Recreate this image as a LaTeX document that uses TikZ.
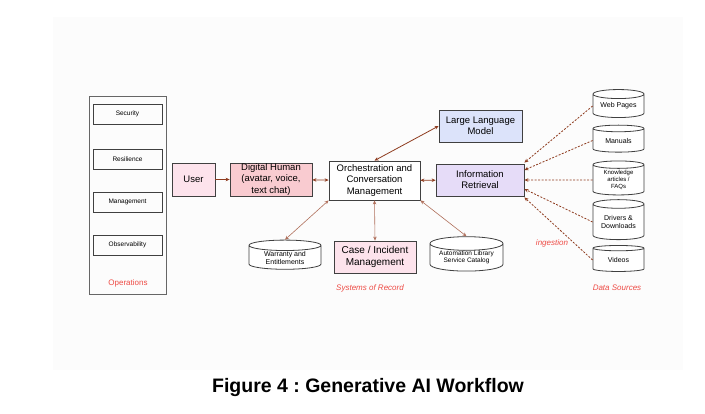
\documentclass[tikz,border=0pt]{standalone}
\usepackage{fontspec}
\setmainfont{Liberation Sans}
\usetikzlibrary{shapes.geometric,arrows.meta}
\frenchspacing

\definecolor{arrowbrown}{HTML}{8E3B1E}
\definecolor{lightbrown}{HTML}{B0705C}
\definecolor{labelred}{HTML}{EE4B45}
\definecolor{userpink}{HTML}{FDE3EC}
\definecolor{humanpink}{HTML}{F9CBD0}
\definecolor{llmblue}{HTML}{DCE3FA}
\definecolor{irlilac}{HTML}{E6DCF8}
\definecolor{boxgrey}{HTML}{404040}

\tikzset{
  box/.style={draw=boxgrey, line width=0.8pt, align=center, inner sep=0pt,
    font=\fontsize{9.5}{11.2}\selectfont},
  opsbox/.style={draw=boxgrey, line width=0.8pt, minimum width=69, minimum height=20,
    inner sep=0pt, font=\fontsize{6.5}{8}\selectfont},
  cyl/.style={cylinder, shape border rotate=90, draw=boxgrey, line width=0.8pt,
    shape aspect=0.25, fill=white, align=center, inner sep=0pt,
    font=\fontsize{7}{8}\selectfont},
  redlabel/.style={text=labelred, font=\fontsize{8}{9}\selectfont\itshape},
  link/.style={arrowbrown, line width=0.8pt,
    {Stealth[length=4pt,width=3.5pt]}-{Stealth[length=4pt,width=3.5pt]}},
  softlink/.style={lightbrown, line width=0.6pt,
    {Stealth[length=4pt,width=3.5pt]}-{Stealth[length=4pt,width=3.5pt]}},
  feed/.style={arrowbrown, line width=0.8pt, dash pattern=on 2pt off 1.5pt,
    -{Stealth[length=4pt,width=3.5pt]}}
}

\begin{document}
\begin{tikzpicture}[x=1pt,y=-1pt]

% page and faint backdrop
\fill[white] (0,0) rectangle (705,414);
\fill[black!1] (53,17) rectangle (683,370);

% operations column
\node[draw=black!60, line width=0.9pt, minimum width=77, minimum height=198] (ops) at (127.5,195) {};
\node[opsbox] (sec) at (127.5,114) {Security};
\node[opsbox] (res) at (127.5,159) {Resilience};
\node[opsbox] (mgmt) at (127.5,202) {Management};
\node[opsbox] (obs) at (127.5,245) {Observability};
\node[text=labelred, font=\fontsize{8}{9}\selectfont] (opslabel) at (128,283) {Operations};

% main flow
\node[box, fill=userpink, minimum width=43, minimum height=33] (user) at (193.5,179.5) {User};
\node[box, fill=humanpink, minimum width=82, minimum height=33] (human) at (271,179.5) {Digital Human\\(avatar, voice,\\text chat)};
\node[box, fill=white, minimum width=91, minimum height=39] (orch) at (374.5,180.5) {Orchestration and\\Conversation\\Management};
\node[box, fill=llmblue, minimum width=83, minimum height=32] (llm) at (480.5,126) {Large Language\\Model};
\node[box, fill=irlilac, minimum width=88, minimum height=32] (ir) at (480,180) {Information\\Retrieval};

% systems of record
\node[cyl, minimum width=72, minimum height=29] (warranty) at (285,257.5) {Warranty and\\Entitlements};
\node[box, fill=userpink, minimum width=82, minimum height=32, font=\fontsize{10}{12}\selectfont] (case) at (375,257) {Case / Incident\\Management};
\node[cyl, minimum width=73, minimum height=29, font=\fontsize{6.5}{7.5}\selectfont] (auto) at (466.5,257.5) {Automation Library\\Service Catalog};
\node[redlabel] (sorlabel) at (370,288) {Systems of Record};

% data sources
\node[cyl, minimum width=51, minimum height=28] (web) at (618.5,106) {Web Pages};
\node[cyl, minimum width=51, minimum height=27] (manuals) at (618.5,140.5) {Manuals};
\node[cyl, minimum width=51, minimum height=34, font=\fontsize{6}{7}\selectfont] (know) at (618.5,180) {Knowledge\\articles /\\FAQs};
\node[cyl, minimum width=51, minimum height=40] (drivers) at (618.5,222) {Drivers \&\\Downloads};
\node[cyl, minimum width=51, minimum height=26] (videos) at (618.5,260) {Videos};
\node[redlabel] (dslabel) at (617,288) {Data Sources};
\node[redlabel] (inglabel) at (552,243) {ingestion};

% connectors
\draw[arrowbrown, line width=0.8pt, -{Stealth[length=4pt,width=3.5pt]}] (user) -- (human);
\draw[link] (human) -- (orch);
\draw[link] (orch.north) -- (llm.west);
\draw[link] (orch) -- (ir);
\draw[softlink] (orch.south west) -- (warranty.north);
\draw[softlink] (orch.south) -- (case.north);
\draw[softlink] (orch.south east) -- (auto.north);

\draw[feed] (web.west) -- ([yshift=1pt]ir.north east);
\draw[feed] (manuals.west) -- ([yshift=10pt]ir.east);
\draw[feed] (know.west) -- (ir.east);
\draw[feed] (drivers.west) -- ([yshift=-9pt]ir.east);
\draw[feed] (videos.west) -- ([yshift=-1pt]ir.south east);

% caption
\node[font=\fontsize{19.5}{22}\selectfont\bfseries] (caption) at (368,388) {Figure 4 : Generative AI Workflow};

\end{tikzpicture}
\end{document}
